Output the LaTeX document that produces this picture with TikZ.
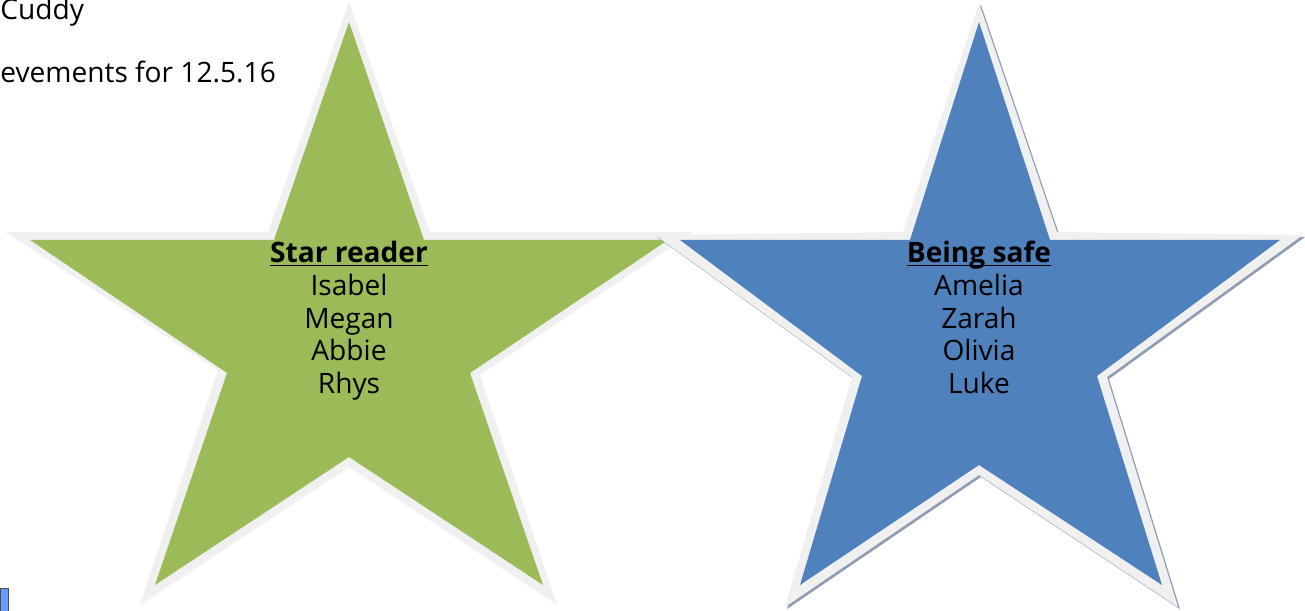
\documentclass[tikz,border=0pt]{standalone}
\usepackage{fontspec}
\setmainfont{Open Sans}
\definecolor{readergreen}{HTML}{9BBB59}
\definecolor{safeblue}{HTML}{4F81BD}
\definecolor{rimgrey}{HTML}{F0F0F0}
\definecolor{shadowgrey}{HTML}{8E9DB3}
\definecolor{tabblue}{HTML}{6A9BFF}
\newcommand\headline[1]{\underline{\smash{#1}}}
\begin{document}
\begin{tikzpicture}[x=0.02cm,y=-0.02cm,
        rim/.style={fill=rimgrey},
        txt/.style={anchor=base,inner sep=0pt,font=\fontsize{16}{19}\selectfont},
        head/.style={txt,font=\fontsize{16}{19}\selectfont\bfseries}]
            \useasboundingbox (0,0) rectangle (1305,611);
            \fill[rim] (349,2) -- (268,232) -- (5,232) -- (218,370) -- (140,605) -- (349,467) -- (557,605) -- (480,375) -- (693,232) -- (430,232) -- cycle;
            \fill[readergreen] (349,22) -- (274,240) -- (30,240) -- (227,373) -- (155,585) -- (349,457) -- (543,585) -- (470,373) -- (668,240) -- (424,240) -- cycle;
            \fill[shadowgrey] (981,5) -- (905,234) -- (657,237) -- (854,379) -- (787,609) -- (981,477) -- (1180,609) -- (1109,379) -- (1305,237) -- (1059,234) -- cycle;
            \fill[rim] (979,3) -- (903,232) -- (655,235) -- (852,377) -- (785,607) -- (979,475) -- (1178,607) -- (1107,377) -- (1303,235) -- (1057,232) -- cycle;
            \fill[safeblue] (979,22) -- (910,240) -- (680,240) -- (862,376) -- (800,585) -- (979,465) -- (1162,585) -- (1097,376) -- (1280,240) -- (1050,240) -- cycle;
            \filldraw[fill=tabblue,draw=black!70,line width=0.5pt] (0,588) rectangle (8,611);
            \node[txt,anchor=base west] (teacher) at (0,20) {Cuddy};
            \node[txt,anchor=base west] (title) at (0,83) {evements for 12.5.16};
            \node[head] (readerhead) at (349,263) {\headline{Star reader}};
            \foreach \who [count=\i] in {Isabel,Megan,Abbie,Rhys}
                \node[txt] (reader\i) at (349,263+32.5*\i) {\who};
            \node[head] (safehead) at (979,263) {\headline{Being safe}};
            \foreach \who [count=\i] in {Amelia,Zarah,Olivia,Luke}
                \node[txt] (safe\i) at (979,263+32.5*\i) {\who};
        \end{tikzpicture}
\end{document}
